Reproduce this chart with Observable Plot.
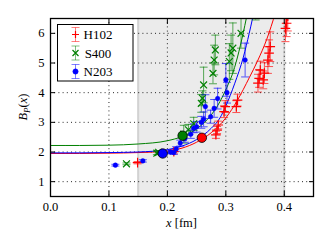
<!DOCTYPE html>
<html><head><meta charset="utf-8">
<script src="https://cdn.jsdelivr.net/npm/d3@7"></script>
<script src="https://cdn.jsdelivr.net/npm/@observablehq/plot@0.6"></script>
<style>
body{margin:0;background:#fff;}
#chart{position:relative;width:332px;height:249px;}
</style></head><body><div id="chart"></div>
<script>
const xTicks = [0, 0.1, 0.2, 0.3, 0.4];
const yTicks = [1, 2, 3, 4, 5, 6];
const fitWindow = [0.15, 0.40];
const seriesNames = ["H102", "S400", "N203"];
const seriesColors = ["#ff0000", "#008000", "#0000ff"];
const seriesSymbols = ["plus", "times", "circle"];

// H102
const h102X = [0.149, 0.211, 0.283, 0.285, 0.287, 0.297, 0.299, 0.318, 0.320, 0.355, 0.357, 0.359, 0.364, 0.366, 0.372, 0.374, 0.376, 0.402, 0.404, 0.406];
const h102Y = [1.64, 2.01, 2.58, 2.74, 2.91, 3.36, 3.53, 3.53, 3.75, 4.32, 4.48, 4.76, 4.43, 4.66, 5.10, 5.33, 5.55, 6.17, 6.34, 6.58];
const h102E = [0.04, 0.07, 0.12, 0.12, 0.13, 0.2, 0.2, 0.2, 0.2, 0.3, 0.3, 0.3, 0.3, 0.35, 0.45, 0.45, 0.5, 0.45, 0.45, 0.5];
// S400
const s400X = [0.130, 0.182, 0.185, 0.228, 0.236, 0.245, 0.258, 0.260, 0.262, 0.278, 0.280, 0.282, 0.306, 0.309, 0.312, 0.326, 0.351];
const s400Y = [1.60, 1.96, 1.99, 2.6, 2.75, 2.95, 3.64, 3.81, 4.26, 4.65, 5.1, 5.44, 5.05, 5.34, 5.5, 6.0, 6.75];
const s400E = [0.03, 0.05, 0.06, 0.3, 0.18, 0.22, 0.3, 0.25, 0.6, 0.35, 0.5, 0.5, 0.6, 0.6, 0.85, 0.5, 0.3];
// N203
const n203X = [0.111, 0.158, 0.205, 0.211, 0.215, 0.222, 0.23, 0.24, 0.245, 0.25, 0.258, 0.262, 0.265, 0.274, 0.28, 0.286, 0.3, 0.302, 0.333];
const n203Y = [1.556, 1.70, 2.0, 1.98, 2.1, 2.3, 2.45, 2.6, 2.8, 2.85, 3.0, 3.1, 3.53, 3.19, 3.47, 3.8, 4.43, 4.0, 5.1];
const n203E = [0.03, 0.04, 0.06, 0.06, 0.08, 0.1, 0.12, 0.14, 0.15, 0.18, 0.2, 0.25, 0.4, 0.22, 0.3, 0.35, 0.55, 0.35, 0.57];

// highlighted (large) points
const bigX = [0.259, 0.226, 0.192];
const bigY = [2.48, 2.55, 1.95];

// fit curves
const h102CurveX = [0, 0.05, 0.1, 0.15, 0.2, 0.225, 0.25, 0.275, 0.3, 0.32, 0.34, 0.355, 0.37, 0.385];
const h102CurveY = [1.95, 1.95, 1.96, 1.98, 2.03, 2.13, 2.33, 2.65, 3.15, 3.75, 4.5, 5.1, 5.8, 6.7];
const s400CurveX = [0, 0.05, 0.1, 0.15, 0.2, 0.225, 0.25, 0.275, 0.29, 0.3, 0.315, 0.325, 0.335, 0.345];
const s400CurveY = [2.22, 2.22, 2.23, 2.27, 2.38, 2.52, 2.78, 3.25, 3.7, 4.1, 4.85, 5.6, 6.5, 7.5];
const n203CurveX = [0, 0.05, 0.1, 0.15, 0.2, 0.225, 0.25, 0.275, 0.29, 0.3, 0.315, 0.33, 0.34, 0.35];
const n203CurveY = [1.97, 1.97, 1.98, 2.0, 2.08, 2.2, 2.42, 2.8, 3.15, 3.55, 4.3, 5.2, 6.0, 6.9];

const pointSets = [[h102X, h102Y, h102E], [s400X, s400Y, s400E], [n203X, n203Y, n203E]];
const curveSets = [[h102CurveX, h102CurveY], [s400CurveX, s400CurveY], [n203CurveX, n203CurveY]];

const points = pointSets.flatMap(([xs, ys, es], k) => xs.map((x, i) => ({s: k, x, y: ys[i], e: es[i]})));
const caps = points.flatMap(d => [{s: d.s, x: d.x, y: d.y - d.e}, {s: d.s, x: d.x, y: d.y + d.e}]);
const curves = curveSets.flatMap(([xs, ys], k) => xs.map((x, i) => ({s: k, x, y: ys[i]})));
const big = bigX.map((x, i) => ({s: i, x, y: bigY[i]}));

const hline = {draw(ctx, size) { const r = Math.sqrt(size / Math.PI); ctx.moveTo(-r, 0); ctx.lineTo(r, 0); }};
const col = d => seriesColors[d.s];
const serif = "Liberation Serif, Times New Roman, serif";

const plot = Plot.plot({
  width: 332, height: 249,
  marginLeft: 50, marginRight: 19, marginTop: 18, marginBottom: 53,
  x: {domain: [0, 0.45]},
  y: {domain: [0.5, 6.5]},
  style: {fontFamily: serif, fontSize: "12.5px", color: "black", background: "white"},
  marks: [
    Plot.rect([fitWindow], {x1: d => d[0], x2: d => d[1], fill: "#ebebeb"}),
    Plot.ruleX(fitWindow, {stroke: "#d2d2d2", strokeWidth: 2}),
    Plot.gridX(xTicks, {stroke: "#000", strokeOpacity: 0.85, strokeDasharray: "1,3.2"}),
    Plot.gridY(yTicks, {stroke: "#000", strokeOpacity: 0.85, strokeDasharray: "1,3.2"}),
    Plot.line(curves, {x: "x", y: "y", z: "s", stroke: col, strokeWidth: 1, curve: "monotone-x", clip: true}),
    Plot.ruleX(points, {x: "x", y1: d => d.y - d.e, y2: d => d.y + d.e, stroke: col, strokeOpacity: 0.65, strokeWidth: 1, clip: true}),
    Plot.dot(caps, {x: "x", y: "y", symbol: hline, r: 4, stroke: col, strokeOpacity: 0.65, strokeWidth: 1, clip: true}),
    Plot.dot(points.filter(d => d.s !== 2), {x: "x", y: "y", symbol: d => seriesSymbols[d.s], r: 3.2, stroke: col, strokeWidth: 1.2, clip: true}),
    Plot.dot(points.filter(d => d.s === 2), {x: "x", y: "y", r: 2.3, fill: col, stroke: col, strokeWidth: 0.5, clip: true}),
    Plot.dot(big, {x: "x", y: "y", r: 4.7, fill: col, stroke: "#000", strokeWidth: 0.8}),
    Plot.frame({stroke: "#000", strokeWidth: 1.3}),
    Plot.axisX({anchor: "bottom", ticks: xTicks, tickSize: -5, tickPadding: 11, tickFormat: d3.format(".1f"), label: null}),
    Plot.axisX({anchor: "top", ticks: xTicks, tickSize: -5, fill: "none", label: null}),
    Plot.axisY({anchor: "left", ticks: yTicks, tickSize: -5, tickPadding: 11, tickFormat: d3.format("d"), label: null}),
    Plot.axisY({anchor: "right", ticks: yTicks, tickSize: -5, fill: "none", label: null})
  ]
});
document.getElementById("chart").appendChild(plot);

const svg = d3.select(plot);
// axis titles
const xl = svg.append("text").attr("x", 181.5).attr("y", 227).attr("text-anchor", "middle")
  .style("font-family", serif).attr("font-size", 12.5).attr("fill", "black");
xl.append("tspan").attr("font-style", "italic").text("x");
xl.append("tspan").text(" [fm]");
const yl = svg.append("text").attr("transform", "translate(27,107) rotate(-90)").attr("text-anchor", "middle")
  .style("font-family", serif).attr("font-size", 12.5).attr("fill", "black");
yl.append("tspan").attr("font-style", "italic").text("B");
yl.append("tspan").attr("font-style", "italic").attr("font-size", 9).attr("dy", 2.5).text("P");
yl.append("tspan").attr("dy", -2.5).text("(");
yl.append("tspan").attr("font-style", "italic").text("x");
yl.append("tspan").text(")");

// legend
const lg = svg.append("g");
lg.append("rect").attr("x", 57.5).attr("y", 24.5).attr("width", 75.5).attr("height", 56.5)
  .attr("fill", "white").attr("stroke", "black").attr("stroke-width", 1);
seriesNames.forEach((name, i) => {
  const cy = 34.5 + i * 18.5, cx = 75.5, c = seriesColors[i];
  const g = lg.append("g").attr("stroke", c);
  g.append("line").attr("x1", cx).attr("x2", cx).attr("y1", cy - 7).attr("y2", cy + 7).attr("stroke-opacity", 0.5);
  [cy - 7, cy + 7].forEach(y => g.append("line").attr("x1", cx - 4).attr("x2", cx + 4).attr("y1", y).attr("y2", y).attr("stroke-opacity", 0.5));
  if (i === 0) {
    g.append("path").attr("d", `M${cx - 3.5},${cy}H${cx + 3.5}M${cx},${cy - 3.5}V${cy + 3.5}`).attr("stroke-width", 1.2);
  } else if (i === 1) {
    g.append("path").attr("d", `M${cx - 3},${cy - 3}L${cx + 3},${cy + 3}M${cx - 3},${cy + 3}L${cx + 3},${cy - 3}`).attr("stroke-width", 1.2);
  } else {
    g.append("circle").attr("cx", cx).attr("cy", cy).attr("r", 2.5).attr("fill", c);
  }
  lg.append("text").attr("x", 98).attr("y", cy + 4.5).style("font-family", serif).attr("font-size", 13)
    .attr("fill", "black").text(name);
});
</script></body></html>
